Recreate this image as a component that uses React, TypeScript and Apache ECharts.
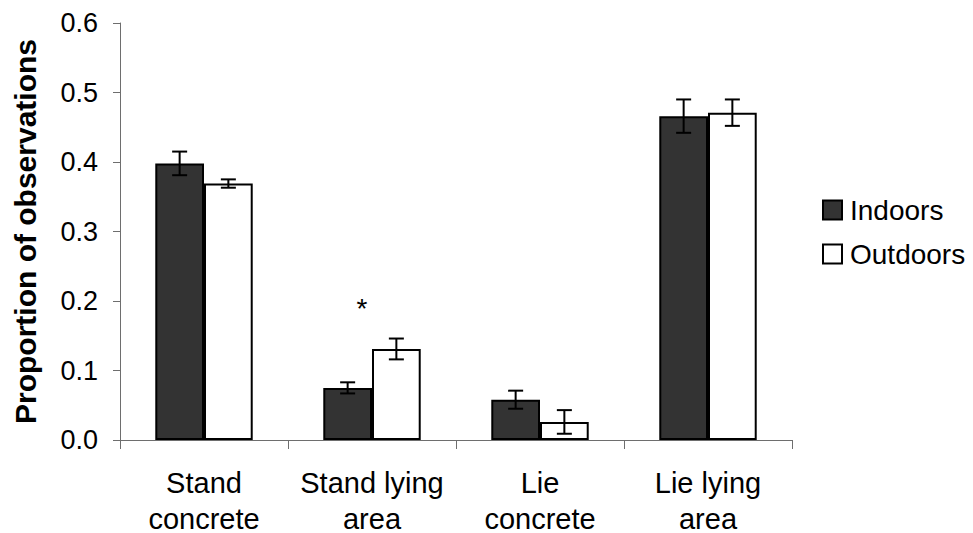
import React, { useEffect, useRef } from "react";
import * as echarts from "echarts";

// Behaviour categories on the x axis (two lines each)
const categories = [
  "Stand\nconcrete",
  "Stand lying\narea",
  "Lie\nconcrete",
  "Lie lying\narea",
];

// Mean proportion of observations per housing condition
const indoorsValues = [0.398, 0.075, 0.058, 0.466];
const outdoorsValues = [0.369, 0.131, 0.026, 0.471];

// Standard errors drawn as error bars
const indoorsErrors = [0.017, 0.008, 0.013, 0.024];
const outdoorsErrors = [0.006, 0.015, 0.017, 0.019];

// Significant difference markers: [category index, height]
const significance: [number, number][] = [[1, 0.21]];

const yTicks = { min: 0, max: 0.6, interval: 0.1 };

const BAR_CATEGORY_GAP = 0.42;
const FONT = "'Liberation Sans', Arial, sans-serif";

function errorBarSeries(values: number[], errors: number[], side: number) {
  return {
    type: "custom",
    z: 5,
    silent: true,
    data: values.map((v, i) => [i, v, errors[i]]),
    renderItem: (_params: any, api: any) => {
      const i = api.value(0);
      const v = api.value(1);
      const e = api.value(2);
      const band = api.size([1, 0])[0];
      const barW = (band * (1 - BAR_CATEGORY_GAP)) / 2;
      const top = api.coord([i, v + e]);
      const bot = api.coord([i, v - e]);
      const x = top[0] + (side * barW) / 2;
      const cap = 7.5;
      const style = { stroke: "#000", lineWidth: 2 };
      return {
        type: "group",
        children: [
          { type: "line", shape: { x1: x, y1: top[1], x2: x, y2: bot[1] }, style },
          { type: "line", shape: { x1: x - cap, y1: top[1], x2: x + cap, y2: top[1] }, style },
          { type: "line", shape: { x1: x - cap, y1: bot[1], x2: x + cap, y2: bot[1] }, style },
        ],
      };
    },
  };
}

export default function App() {
  const ref = useRef<HTMLDivElement>(null);

  useEffect(() => {
    document.body.style.margin = "0";
    if (!ref.current) return;
    const chart = echarts.init(ref.current, undefined, { renderer: "svg" });
    chart.setOption({
      animation: false,
      backgroundColor: "#fff",
      textStyle: { fontFamily: FONT },
      grid: {
        left: 120,
        right: 181,
        top: 23,
        bottom: 93,
        containLabel: false,
        outerBoundsMode: "none",
      },
      legend: {
        data: ["Indoors", "Outdoors"],
        orient: "vertical",
        left: 822,
        top: 194,
        padding: 0,
        itemWidth: 19,
        itemHeight: 19,
        itemGap: 12,
        icon: "rect",
        selectedMode: false,
        textStyle: {
          fontSize: 28,
          color: "#000",
          fontFamily: FONT,
          padding: [0, 0, 0, 3],
          lineHeight: 32,
        },
      },
      xAxis: {
        type: "category",
        data: categories,
        axisLine: { lineStyle: { color: "#6e6e6e", width: 1 } },
        axisTick: { show: true, length: 9, lineStyle: { color: "#6e6e6e" } },
        axisLabel: {
          color: "#000",
          fontSize: 29,
          margin: 22,
          fontFamily: FONT,
          interval: 0,
          formatter: (v: string) => {
            const [first, second] = v.split("\n");
            return `{a|${first}}\n{b|${second}}`;
          },
          rich: {
            a: { fontSize: 29, lineHeight: 42, fontFamily: FONT, color: "#000" },
            b: { fontSize: 29, lineHeight: 29, fontFamily: FONT, color: "#000" },
          },
        },
      },
      yAxis: {
        type: "value",
        min: yTicks.min,
        max: yTicks.max,
        interval: yTicks.interval,
        name: "Proportion of observations",
        nameLocation: "middle",
        nameGap: 80,
        nameTextStyle: { color: "#000", fontSize: 30, fontWeight: "bold", fontFamily: FONT },
        axisLine: { show: true, lineStyle: { color: "#6e6e6e", width: 1 } },
        axisTick: { show: true, length: 7, lineStyle: { color: "#6e6e6e" } },
        splitLine: { show: false },
        axisLabel: {
          color: "#000",
          fontSize: 27,
          margin: 22,
          fontFamily: FONT,
          formatter: (v: number) => v.toFixed(1),
        },
      },
      series: [
        {
          name: "Indoors",
          type: "bar",
          data: indoorsValues,
          barGap: "0%",
          barCategoryGap: `${BAR_CATEGORY_GAP * 100}%`,
          itemStyle: { color: "#333333", borderColor: "#000", borderWidth: 2 },
        },
        {
          name: "Outdoors",
          type: "bar",
          data: outdoorsValues,
          barGap: "0%",
          barCategoryGap: `${BAR_CATEGORY_GAP * 100}%`,
          itemStyle: { color: "#ffffff", borderColor: "#000", borderWidth: 2 },
        },
        errorBarSeries(indoorsValues, indoorsErrors, -1),
        errorBarSeries(outdoorsValues, outdoorsErrors, 1),
        {
          type: "custom",
          z: 5,
          silent: true,
          data: significance,
          renderItem: (_params: any, api: any) => {
            const p = api.coord([api.value(0), api.value(1)]);
            return {
              type: "text",
              x: p[0] - 10,
              y: p[1],
              style: {
                text: "*",
                fontSize: 28,
                fontFamily: FONT,
                fill: "#000",
                align: "center",
                verticalAlign: "top",
              },
            };
          },
        },
      ],
    });
    return () => chart.dispose();
  }, []);

  return <div ref={ref} style={{ width: 973, height: 533 }} />;
}
